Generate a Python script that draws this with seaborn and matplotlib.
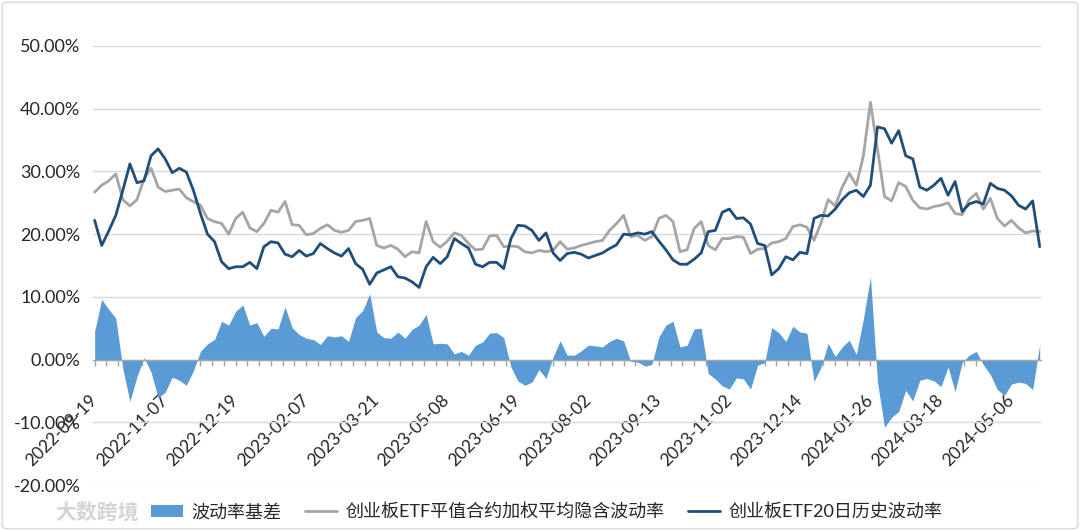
import numpy as np
import pandas as pd
import seaborn as sns
import matplotlib.pyplot as plt
from matplotlib.patches import Patch, FancyBboxPatch
from matplotlib.lines import Line2D
from matplotlib.ticker import FixedLocator, PercentFormatter
import matplotlib.transforms as mtransforms

# tick labels (one every 30 trading days = 10 samples)
date_labels = ["2022-09-19", "2022-11-07", "2022-12-19", "2023-02-07", "2023-03-21",
               "2023-05-08", "2023-06-19", "2023-08-02", "2023-09-13", "2023-11-02",
               "2023-12-14", "2024-01-26", "2024-03-18", "2024-05-06"]

# 创业板ETF平值合约加权平均隐含波动率 (%), sampled every 3 trading days
implied_vol = [
    26.7, 27.8, 28.5, 29.6, 25.5, 24.5, 25.5, 28.8, 30.5, 27.5,
    26.8, 27.0, 27.2, 25.8, 25.2, 24.6, 22.5, 22.0, 21.7, 20.0,
    22.5, 23.5, 21.0, 20.4, 21.7, 23.8, 23.5, 25.2, 21.5, 21.4,
    19.9, 20.1, 20.9, 21.5, 20.6, 20.3, 20.6, 22.0, 22.2, 22.5,
    18.2, 17.8, 18.2, 17.6, 16.4, 17.2, 17.0, 22.0, 18.8, 17.9,
    18.9, 20.2, 19.8, 18.5, 17.5, 17.6, 19.7, 19.8, 18.0, 18.1,
    18.0, 17.2, 17.0, 17.4, 17.2, 17.4, 18.8, 17.6, 17.8, 18.2,
    18.5, 18.8, 19.0, 20.6, 21.7, 23.0, 19.6, 19.8, 19.0, 19.6,
    22.5, 23.0, 22.0, 17.2, 17.5, 20.9, 22.0, 18.2, 17.5, 19.3,
    19.3, 19.6, 19.5, 16.9, 17.6, 17.7, 18.6, 18.8, 19.3, 21.2,
    21.5, 21.1, 19.0, 21.8, 25.5, 24.5, 27.5, 29.7, 27.8, 32.5,
    41.0, 33.5, 26.0, 25.3, 28.2, 27.6, 25.4, 24.2, 24.0, 24.4,
    24.6, 25.0, 23.3, 23.1, 25.5, 26.5, 24.0, 25.7, 22.5, 21.3,
    22.2, 21.0, 20.2, 20.5, 20.4,
]

# 创业板ETF20日历史波动率 (%)
hist_vol = [
    22.2, 18.2, 20.5, 23.0, 27.0, 31.2, 28.2, 28.5, 32.5, 33.6,
    32.0, 29.8, 30.5, 29.9, 27.0, 23.3, 20.0, 18.8, 15.6, 14.5,
    14.8, 14.8, 15.5, 14.5, 18.0, 18.8, 18.6, 16.8, 16.4, 17.4,
    16.5, 16.9, 18.5, 17.7, 17.0, 16.5, 17.7, 15.3, 14.4, 12.0,
    13.8, 14.3, 14.8, 13.2, 13.0, 12.4, 11.5, 14.8, 16.3, 15.3,
    16.4, 19.3, 18.5, 17.8, 15.2, 14.8, 15.5, 15.5, 14.5, 19.2,
    21.4, 21.3, 20.6, 19.0, 20.2, 17.0, 15.8, 16.9, 17.1, 16.8,
    16.2, 16.6, 17.0, 17.7, 18.3, 20.0, 19.9, 20.2, 20.0, 20.4,
    18.9, 17.5, 15.9, 15.2, 15.2, 16.0, 17.0, 20.4, 20.6, 23.5,
    24.0, 22.5, 22.6, 21.6, 18.5, 18.2, 13.5, 14.5, 16.4, 15.9,
    17.1, 16.9, 22.5, 23.0, 22.9, 24.0, 25.5, 26.6, 27.0, 26.0,
    27.8, 37.1, 36.8, 34.5, 36.5, 32.5, 32.0, 27.5, 27.0, 27.8,
    28.9, 26.2, 28.4, 23.6, 24.8, 25.2, 24.8, 28.1, 27.3, 27.0,
    26.1, 24.6, 24.0, 25.3, 18.0,
]

df = pd.DataFrame({"implied": implied_vol, "hist": hist_vol})
df["idx"] = np.arange(len(df))
df["basis"] = df["implied"] - df["hist"]

sns.set_theme(style="white")
plt.rcParams["font.family"] = ["Lato", "Noto Sans CJK SC", "DejaVu Sans"]
plt.rcParams["axes.unicode_minus"] = False

fig = plt.figure(figsize=(10.8, 5.31), dpi=100)
ax = fig.add_axes([0.086, 0.0866, 0.878, 0.8268])

ax.fill_between(df["idx"], df["basis"], 0, color="#5b9bd5", linewidth=0, zorder=2)
sns.lineplot(data=df, x="idx", y="implied", ax=ax, color="#a5a5a5", linewidth=2.0, zorder=3)
sns.lineplot(data=df, x="idx", y="hist", ax=ax, color="#1f4e79", linewidth=2.0, zorder=4)

ax.set_xlim(-0.25, len(df) - 1 + 0.2)
ax.set_ylim(-20, 50)
ax.set_yticks(np.arange(-20, 51, 10))
ax.yaxis.set_major_formatter(PercentFormatter(decimals=2))
ax.grid(axis="y", color="#d9d9d9", linewidth=1, zorder=0)
ax.grid(axis="x", visible=False)
ax.set_xlabel("")
ax.set_ylabel("")

for side in ["top", "right", "left"]:
    ax.spines[side].set_visible(False)
ax.spines["bottom"].set_position(("data", 0))
ax.spines["bottom"].set_color("#a6a6a6")
ax.spines["bottom"].set_linewidth(1)
ax.spines["bottom"].set_zorder(5)

major_pos = [i * 10 for i in range(len(date_labels))]
ax.xaxis.set_major_locator(FixedLocator(major_pos))
ax.xaxis.set_minor_locator(FixedLocator(np.arange(0, len(df), 5 / 3)))
ax.set_xticklabels(date_labels)
ax.tick_params(axis="x", which="both", direction="out", length=4, width=1,
               color="#a6a6a6", bottom=True)
ax.tick_params(axis="x", which="major", pad=19, labelsize=12.5, labelcolor="#262626")
ax.tick_params(axis="y", length=0, pad=9, labelsize=13, labelcolor="#262626")

offset = mtransforms.ScaledTranslation(4 / 72, 0, fig.dpi_scale_trans)
for lbl in ax.get_xticklabels():
    lbl.set_rotation(45)
    lbl.set_ha("right")
    lbl.set_transform(lbl.get_transform() + offset)

handles = [
    Patch(facecolor="#5b9bd5", edgecolor="none", label="波动率基差"),
    Line2D([0], [0], color="#a5a5a5", lw=2, label="创业板ETF平值合约加权平均隐含波动率"),
    Line2D([0], [0], color="#1f4e79", lw=2, label="创业板ETF20日历史波动率"),
]
fig.legend(handles=handles, loc="center", bbox_to_anchor=(0.506, 0.036), ncol=3,
           frameon=False, fontsize=13, handlelength=1.8, handleheight=0.6,
           columnspacing=1.3, handletextpad=0.45, labelcolor="#262626")

# watermark
fig.text(0.051, 0.036, "大数跨境", fontsize=15, fontweight="bold", color="#d4d4d4",
         ha="left", va="center", family=["Noto Sans CJK SC"])

# chart border
fig.patches.append(FancyBboxPatch((0.002, 0.004), 0.996, 0.992,
                                  boxstyle="round,pad=0,rounding_size=0.006",
                                  transform=fig.transFigure, facecolor="none",
                                  edgecolor="#d9d9d9", linewidth=1))

fig.savefig("out.png", dpi=100)
